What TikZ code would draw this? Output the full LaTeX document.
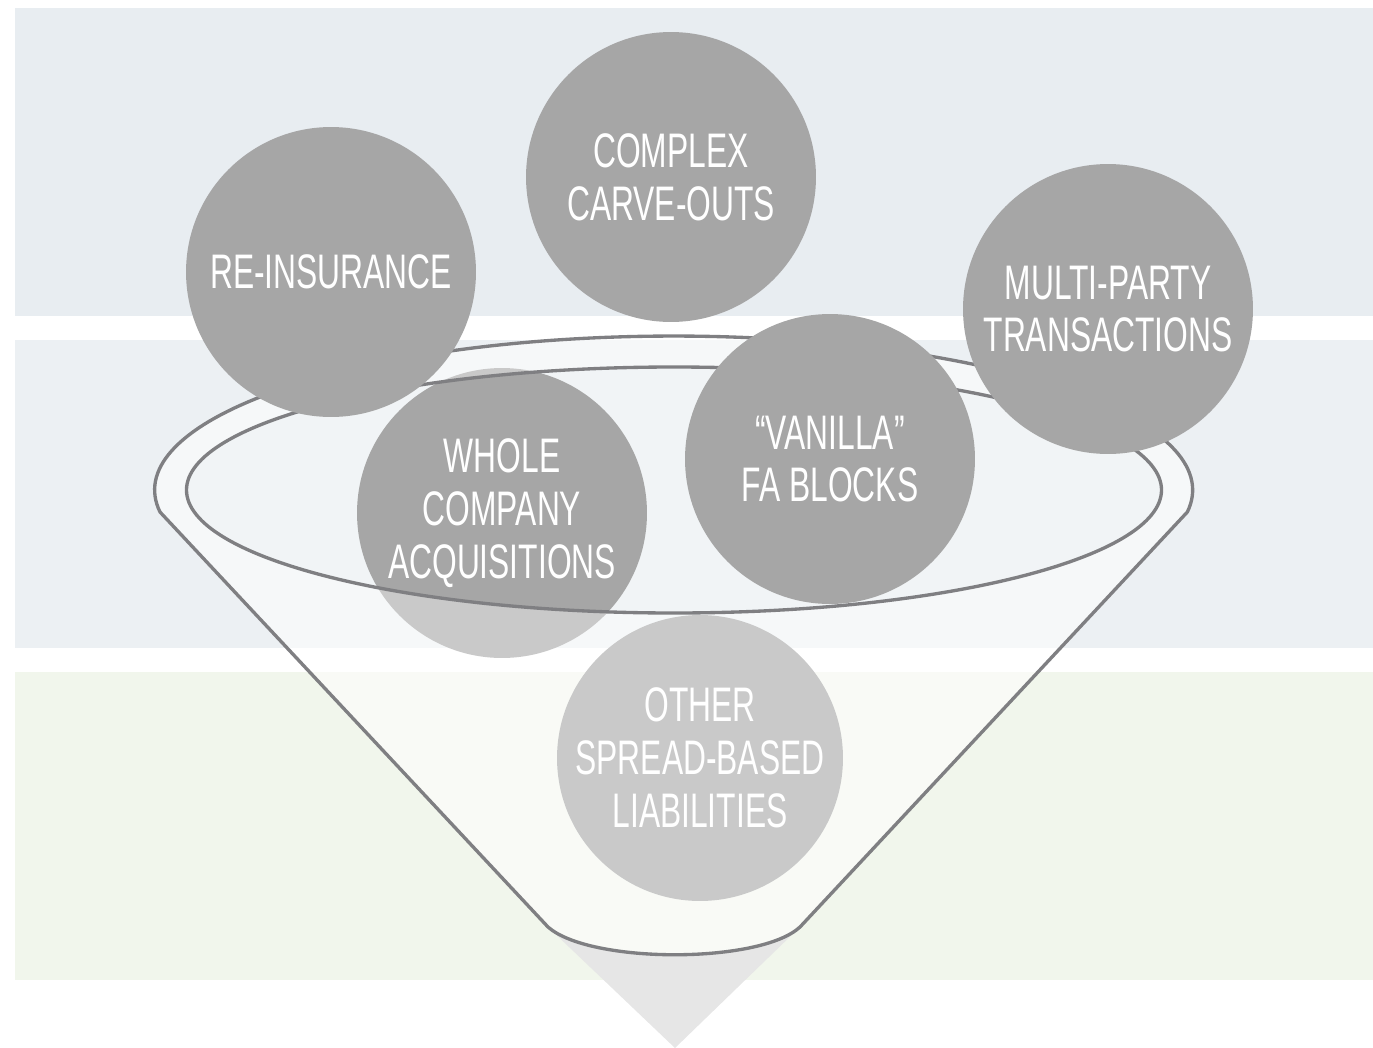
\documentclass[tikz,border=0pt]{standalone}
\usepackage{fontspec}
\usepackage{tikz}
\newfontfamily\bubblefont{Liberation Sans}[FakeStretch=0.655]
\definecolor{bandblue}{RGB}{232,237,241}
\definecolor{bandpale}{RGB}{236,240,243}
\definecolor{bandgreen}{RGB}{241,246,236}
\definecolor{bubblegray}{RGB}{166,166,166}
\definecolor{rimgray}{RGB}{127,127,130}
\definecolor{arrowgray}{RGB}{230,230,230}

\begin{document}
\begin{tikzpicture}[x=0.02cm, y=-0.02cm,
  bubble/.style={circle, fill=bubblegray, minimum size=5.8cm, inner sep=0pt, text=white, align=center, font=\bubblefont\fontsize{27.6}{30}\selectfont},
  rim/.style={draw=rimgray, line width=1.9pt, line join=round}]
  \useasboundingbox (0,0) rectangle (1373,1048);
  \fill[bandblue] (15,8) rectangle (1373,316);
  \fill[bandpale] (15,340) rectangle (1373,648);
  \fill[bandgreen] (15,672) rectangle (1373,980);
  \coordinate (rl) at (160,512);
  \coordinate (bl) at (548,927);
  \coordinate (br) at (800,927);
  \coordinate (tip) at (675,1048);
  \fill[arrowgray] (bl) .. controls (590,964) and (760,964) .. (br) -- (tip) -- cycle;
  \fill[white, opacity=.3] (rl) arc[start angle=171.8, end angle=368.2, x radius=519, y radius=154] -- (br) .. controls (760,964) and (590,964) .. (bl) -- cycle;
  \node[bubble] (wc) at (502,513) {WHOLE\\COMPANY\\ACQUISITIONS};
  \node[bubble, minimum size=5.72cm] (ot) at (700,758) {OTHER\\SPREAD-BASED\\LIABILITIES};
  \fill[white, opacity=.4, even odd rule] (rl) arc[start angle=171.8, end angle=368.2, x radius=519, y radius=154] -- (br) .. controls (760,964) and (590,964) .. (bl) -- cycle (674,490) ellipse[x radius=487.5, y radius=123];
  \draw[rim] (rl) arc[start angle=171.8, end angle=368.2, x radius=519, y radius=154] -- (br) .. controls (760,964) and (590,964) .. (bl) -- cycle;
  \draw[rim] (674,490) ellipse[x radius=487.5, y radius=123];
  \node[bubble] (ri) at (331,272) {RE-INSURANCE};
  \node[bubble] (cc) at (671,177) {COMPLEX\\CARVE-OUTS};
  \node[bubble] (mp) at (1108,309) {MULTI-PARTY\\TRANSACTIONS};
  \node[bubble] (va) at (830,459) {“VANILLA”\\FA BLOCKS};
\end{tikzpicture}
\end{document}
